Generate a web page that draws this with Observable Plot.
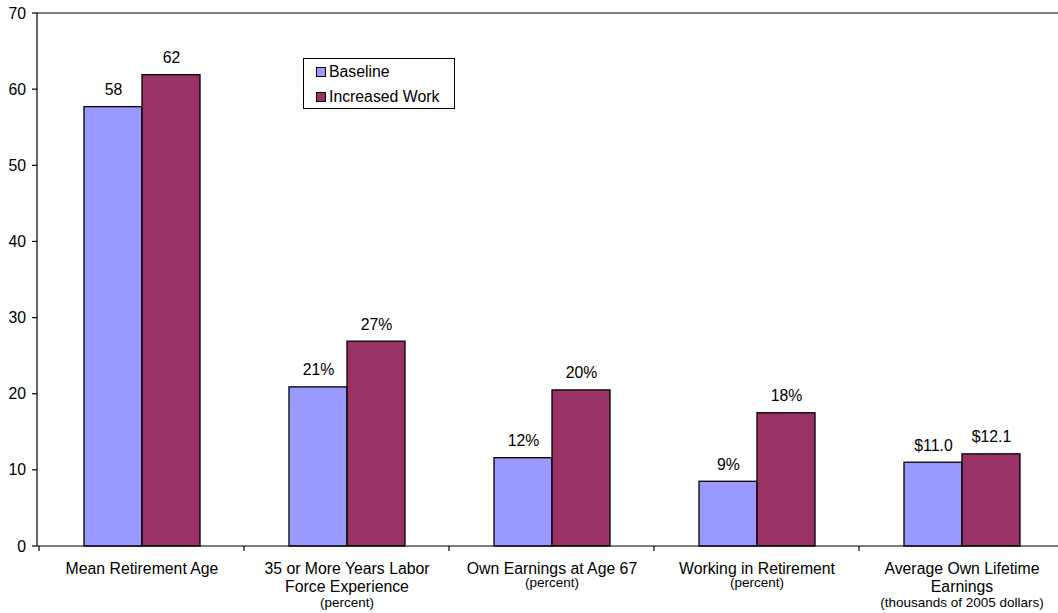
<!DOCTYPE html>
<html><head><meta charset="utf-8">
<script src="https://cdn.jsdelivr.net/npm/d3@7"></script>
<script src="https://cdn.jsdelivr.net/npm/@observablehq/plot@0.6"></script>
<style>
body{margin:0;background:#fff;font-family:"Liberation Sans",Arial,sans-serif;}
#wrap{position:relative;width:1058px;height:613px;overflow:hidden;background:#fff;}
.legend{position:absolute;left:303px;top:58px;width:152px;height:51px;border:1px solid #000;background:#fff;box-sizing:border-box;font-size:15.8px;color:#000;}
.legend .item{position:absolute;left:12px;height:18px;line-height:18px;white-space:nowrap;}
.legend .sw{display:inline-block;width:10px;height:10px;border:1px solid #000;box-sizing:border-box;vertical-align:0px;margin-right:3px;}
</style></head>
<body><div id="wrap"></div>
<script>
const categories = ["Mean Retirement Age","35 or More Years Labor Force Experience","Own Earnings at Age 67","Working in Retirement","Average Own Lifetime Earnings"];
const categoryLines = [["Mean Retirement Age"],["35 or More Years Labor","Force Experience"],["Own Earnings at Age 67"],["Working in Retirement"],["Average Own Lifetime","Earnings"]];
const categoryNotes = [null,"(percent)","(percent)","(percent)","(thousands of 2005 dollars)"];
const series = ["Baseline","Increased Work"];
const baselineValues = [57.7, 20.9, 11.6, 8.5, 11.0];
const increasedValues = [61.9, 26.9, 20.5, 17.5, 12.1];
const baselineLabels = ["58","21%","12%","9%","$11.0"];
const increasedLabels = ["62","27%","20%","18%","$12.1"];
const yTicks = [0,10,20,30,40,50,60,70];
const colors = ["#9999ff","#993366"];

const data = categories.flatMap((c,i)=>[
  {category:c, series:series[0], value:baselineValues[i], label:baselineLabels[i]},
  {category:c, series:series[1], value:increasedValues[i], label:increasedLabels[i]}
]);
const lineRows = [];
categories.forEach((c,i)=>{
  const lines = categoryLines[i];
  lines.forEach((t,j)=>lineRows.push({category:c, text:t, kind:"l"+j}));
  if (categoryNotes[i]) lineRows.push({category:c, text:categoryNotes[i], kind:"n"+lines.length});
});
const rows = k => lineRows.filter(d=>d.kind===k);
const FS = 15.8, NS = 13.5;

const chart = Plot.plot({
  width:1058, height:613,
  marginLeft:37, marginRight:-7, marginTop:13, marginBottom:67,
  style:{fontFamily:"'Liberation Sans', Arial, sans-serif", fontSize:FS+"px", color:"#000", background:"#fff", overflow:"visible"},
  fx:{domain:categories, paddingInner:0.431, paddingOuter:0.2155, axis:null, label:null},
  x:{domain:series, padding:0, axis:null},
  y:{domain:[0,70], axis:null},
  color:{domain:series, range:colors},
  marks:[
    Plot.barY(data,{fx:"category", x:"series", y:"value", fill:"series", stroke:"#000", strokeWidth:1.3}),
    Plot.text(data,{fx:"category", x:"series", y:"value", text:"label", dy:-17, fontSize:FS, fill:"#000"}),
    Plot.text(rows("l0"),{fx:"category", frameAnchor:"bottom", dy:27, text:"text", fontSize:FS, fill:"#000"}),
    Plot.text(rows("l1"),{fx:"category", frameAnchor:"bottom", dy:45, text:"text", fontSize:FS, fill:"#000"}),
    Plot.text(rows("n1"),{fx:"category", frameAnchor:"bottom", dy:40, text:"text", fontSize:NS, fill:"#000"}),
    Plot.text(rows("n2"),{fx:"category", frameAnchor:"bottom", dy:60, text:"text", fontSize:NS, fill:"#000"})
  ]
});

// axis frame lines, y ticks and category boundary ticks from the plot's own scales
const fx = chart.scale("fx"), y = chart.scale("y");
const svg = d3.select(chart);
const r0 = fx.range[0], r1 = fx.range[1];
const step = fx.step || (r1 - r0) / categories.length;
const bw = fx.bandwidth;
const y0 = y.apply(0), yTop = y.apply(70);
const g = svg.append("g").attr("stroke","#000").attr("stroke-width",1.2);
g.append("line").attr("x1",r0).attr("x2",r1).attr("y1",y0).attr("y2",y0);
g.append("line").attr("x1",r0).attr("x2",r1).attr("y1",yTop).attr("y2",yTop);
g.append("line").attr("x1",r0).attr("x2",r0).attr("y1",yTop).attr("y2",y0);
const bounds = categories.map(c => fx.apply(c) - (step - bw)/2);
bounds.push(bounds[bounds.length-1] + step);
bounds.forEach(b => g.append("line").attr("x1",b).attr("x2",b).attr("y1",y0).attr("y2",y0+5));
const ya = svg.append("g");
yTicks.forEach(t => {
  const yy = y.apply(t);
  ya.append("line").attr("x1",r0-5).attr("x2",r0).attr("y1",yy).attr("y2",yy).attr("stroke","#000").attr("stroke-width",1.2);
  ya.append("text").attr("x",r0-11).attr("y",yy).attr("dy","0.35em").attr("text-anchor","end")
    .attr("font-size",FS).attr("fill","#000").text(t);
});

const wrap = document.getElementById("wrap");
wrap.appendChild(chart);
const legend = document.createElement("div");
legend.className = "legend";
series.forEach((s,i)=>{
  const it = document.createElement("div");
  it.className = "item";
  it.style.top = (4 + i*25) + "px";
  const sw = document.createElement("span");
  sw.className = "sw"; sw.style.background = colors[i];
  it.appendChild(sw);
  it.appendChild(document.createTextNode(s));
  legend.appendChild(it);
});
wrap.appendChild(legend);
</script></body></html>
